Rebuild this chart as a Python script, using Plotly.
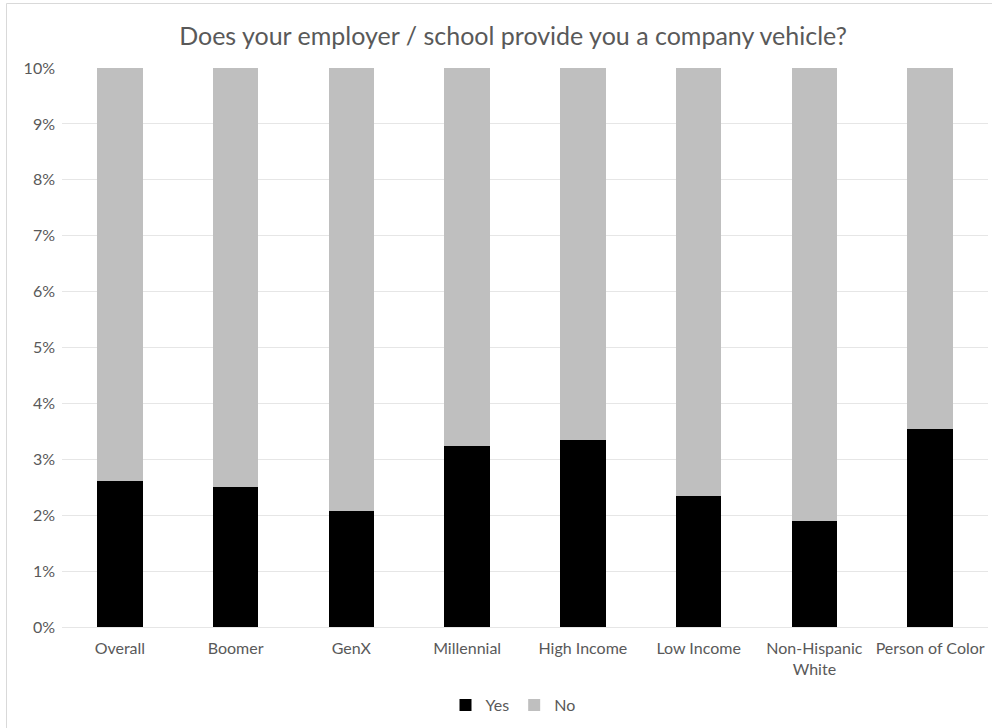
import plotly.graph_objects as go

categories = ["Overall", "Boomer", "GenX", "Millennial", "High Income",
              "Low Income", "Non-Hispanic<br>White", "Person of Color"]
yes_pct = [2.61, 2.50, 2.07, 3.23, 3.35, 2.35, 1.90, 3.54]
no_pct = [100 - v for v in yes_pct]
y_ticks = [0, 1, 2, 3, 4, 5, 6, 7, 8, 9, 10]
y_tick_labels = [f"{t}%" for t in y_ticks]

W, H = 992, 728
L, R, T, B = 62, 4, 68, 101
pw, ph = W - L - R, H - T - B

def px_x(p):
    return (p - L) / pw

def px_y(p):
    return (H - B - p) / ph

font_family = "Lato, 'Open Sans', sans-serif"
grey = "#595959"

fig = go.Figure()
fig.add_trace(go.Bar(x=categories, y=yes_pct, name="Yes",
                     marker=dict(color="#000000", line=dict(width=0))))
fig.add_trace(go.Bar(x=categories, y=no_pct, name="No",
                     marker=dict(color="#bfbfbf", line=dict(width=0))))

fig.update_layout(
    width=W, height=H,
    barmode="stack",
    bargap=0.605,
    margin=dict(l=L, r=R, t=T, b=B),
    paper_bgcolor="white",
    plot_bgcolor="white",
    font=dict(family=font_family, color=grey, size=16),
    title=dict(text="Does your employer / school provide you a company vehicle?",
               x=px_x(513), xref="paper", xanchor="center",
               y=1 - 36 / H, yanchor="middle",
               font=dict(family=font_family, size=25, color=grey)),
    xaxis=dict(showline=False, ticks="", tickfont=dict(size=16, color=grey),
               ticklabelstandoff=10, fixedrange=True),
    yaxis=dict(range=[0, 10], tickvals=y_ticks, ticktext=y_tick_labels,
               showgrid=True, gridcolor="#e6e6e6", gridwidth=1,
               zeroline=True, zerolinecolor="#e6e6e6", zerolinewidth=1,
               showline=False, ticks="", ticklabelstandoff=6,
               tickfont=dict(size=16, color=grey), fixedrange=True),
    legend=dict(orientation="h", x=px_x(513), xanchor="center",
                y=px_y(705), yanchor="middle",
                font=dict(size=16, color=grey), itemwidth=30,
                traceorder="normal", itemsizing="constant"),
    showlegend=True,
)

fig.add_shape(type="rect", xref="paper", yref="paper",
              x0=px_x(6.5), x1=px_x(1000), y0=px_y(740), y1=px_y(3.5),
              line=dict(color="#d9d9d9", width=1), fillcolor="rgba(0,0,0,0)",
              layer="below")

fig.add_annotation(text="Does your employer / school provide you a company vehicle?",
                   xref="paper", yref="paper", x=px_x(545), y=px_y(-8),
                   xanchor="center", yanchor="bottom", showarrow=False,
                   font=dict(family="'Liberation Serif', 'Times New Roman', serif",
                             size=32, color="#000000"))

fig.write_html("out.html",
               config={"displayModeBar": False},
               post_script="document.body.style.margin='0';"
                           "document.body.style.overflow='hidden';")
